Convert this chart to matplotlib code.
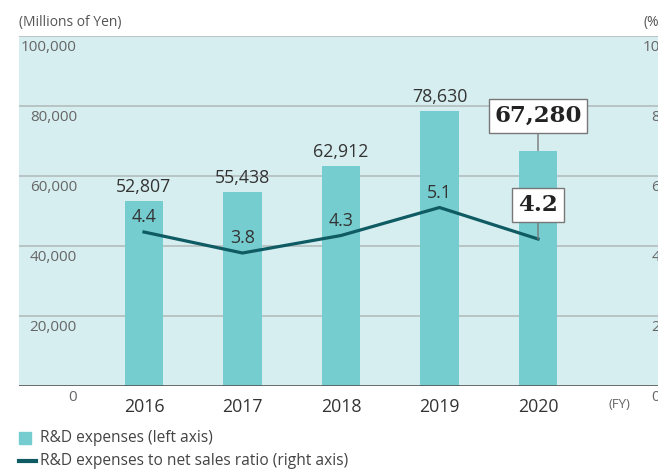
import matplotlib
matplotlib.use("Agg")
from matplotlib import pyplot as plt
from matplotlib.transforms import blended_transform_factory

plt.rcParams['font.family'] = ['Open Sans', 'DejaVu Sans']

years = ['2016', '2017', '2018', '2019', '2020']
expenses = [52807, 55438, 62912, 78630, 67280]
ratio = [4.4, 3.8, 4.3, 5.1, 4.2]
left_ticks = [0, 20000, 40000, 60000, 80000, 100000]
right_ticks = [0, 2, 4, 6, 8, 10]

bar_color = '#76cdd0'
line_color = '#0e5b63'
bg_color = '#d7eef0'
grid_color = '#b4bcbd'

fig = plt.figure(figsize=(6.58, 4.71), dpi=100)
ax = fig.add_axes([19 / 658, 85 / 471, 651 / 658, 350 / 471])
ax.set_facecolor(bg_color)
x = list(range(len(years)))

ax.set_xlim(-1.269, 5.34)
ax.set_ylim(0, 100000)
for t in left_ticks[1:]:
    ax.axhline(t, color=grid_color, lw=1.2, zorder=1)
ax.axhline(0, color='#555555', lw=1.2, zorder=4)
ax.bar(x, expenses, width=0.386, color=bar_color, zorder=2)

for s in ax.spines.values():
    s.set_visible(False)
ax.set_xticks([])
ax.set_yticks([])

ax2 = ax.twinx()
ax2.set_ylim(0, 10)
for s in ax2.spines.values():
    s.set_visible(False)
ax2.set_yticks([])
ax2.plot(x[:len(ratio)], ratio, color=line_color, lw=2.3, zorder=5)

# left axis labels, right aligned inside the plot
trl = blended_transform_factory(ax.transAxes, ax.transData)
for t in left_ticks:
    ax.text(0.089, t - 3300, f'{t:,}', transform=trl, ha='right', va='center',
            fontsize=11, color='#666666')
ax.text(0.0, 1.04, '(Millions of Yen)', transform=ax.transAxes, ha='left',
        va='center', fontsize=10, color='#555555')

# right axis labels (cut off by figure edge)
trr = blended_transform_factory(ax2.transAxes, ax2.transData)
for t in right_ticks:
    ax2.text(0.985, t - 0.33, f'{t}', transform=trr, ha='right', va='center',
             fontsize=11, color='#666666')
ax2.text(0.99, 1.04, '(%)', transform=ax2.transAxes, ha='right',
         va='center', fontsize=10, color='#555555')

# year labels
for i, y in enumerate(years):
    ax.text(i, -6000, y, ha='center', va='center', fontsize=12.8, color='#333333',
            clip_on=False)
ax.text(4.83, -5300, '(FY)', ha='center', va='center', fontsize=9.5,
        color='#666666', clip_on=False)

# value labels
for i in range(len(years) - 1):
    ax.annotate(f'{expenses[i]:,}', (x[i], expenses[i]), xytext=(0, 10),
                textcoords='offset points', ha='center', va='center',
                fontsize=12.8, color='#333333', zorder=6)
    ax2.annotate(f'{ratio[i]}', (x[i], ratio[i]), xytext=(0, 10.5),
                 textcoords='offset points', ha='center', va='center',
                 fontsize=12.8, color='#333333', zorder=6)

box = dict(boxstyle='square,pad=0.25', fc='white', ec='#777777', lw=1)
arrow = dict(arrowstyle='-', color='#777777', lw=1, shrinkA=0, shrinkB=0)
ax2.annotate(f'{expenses[4]:,}', (x[4], expenses[4] / 10000), xytext=(0, 25),
             textcoords='offset points', ha='center', va='center',
             fontsize=16.5, fontweight='bold', family='DejaVu Serif',
             color='#222222', bbox=box, arrowprops=arrow, zorder=7)
ax2.annotate(f'{ratio[4]}', (x[4], ratio[4]), xytext=(0, 24.5),
             textcoords='offset points', ha='center', va='center',
             fontsize=16.5, fontweight='bold', family='DejaVu Serif',
             color='#222222', bbox=box, arrowprops=arrow, zorder=7)

# legend
fig.patches.append(plt.Rectangle((19 / 658, 1 - 444 / 471), 12 / 658, 12 / 471,
                                 transform=fig.transFigure, color=bar_color))
fig.text(40 / 658, 1 - 438 / 471, 'R&D expenses (left axis)', ha='left',
         va='center', fontsize=11.2, color='#444444')
fig.lines.append(plt.Line2D([19 / 658, 36 / 658], [1 - 461 / 471, 1 - 461 / 471],
                            transform=fig.transFigure, color=line_color, lw=3))
fig.text(40 / 658, 1 - 461 / 471, 'R&D expenses to net sales ratio (right axis)',
         ha='left', va='center', fontsize=11.2, color='#444444')

fig.savefig('out.png', dpi=100)
